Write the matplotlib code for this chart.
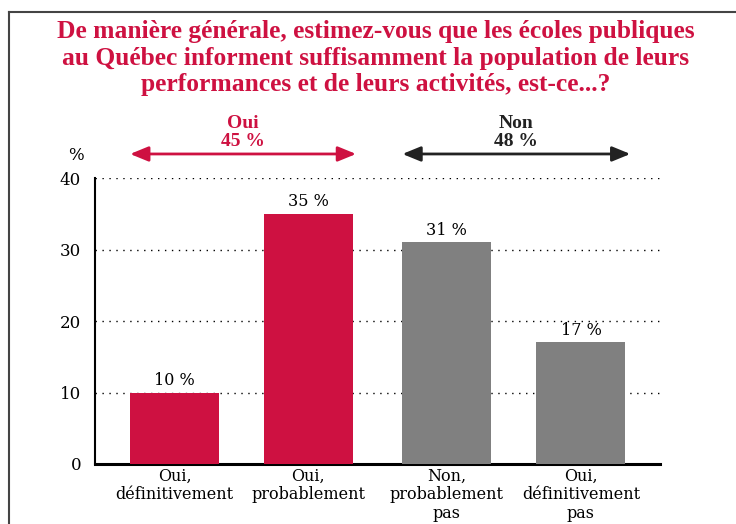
import matplotlib
matplotlib.use("Agg")
import matplotlib.pyplot as plt
from matplotlib.lines import Line2D

categories = ["Oui,\ndéfinitivement", "Oui,\nprobablement", "Non,\nprobablement\npas", "Oui,\ndéfinitivement\npas"]
values = [10, 35, 31, 17]
value_labels = ["10 %", "35 %", "31 %", "17 %"]
groups = ["Oui", "Non"]
group_totals = ["45 %", "48 %"]
yticks = [0, 10, 20, 30, 40]
title = ("De manière générale, estimez-vous que les écoles publiques\n"
         "au Québec informent suffisamment la population de leurs\n"
         "performances et de leurs activités, est-ce...?")

RED = "#CE1141"
GRAY = "#808080"
DARK = "#222222"
colors = [RED, RED, GRAY, GRAY]
positions = [0, 1, 2.04, 3.045]

BODY = ["DejaVu Serif"]
plt.rcParams["font.family"] = ["Liberation Serif", "DejaVu Serif"]

fig = plt.figure(figsize=(7.36, 5.24), dpi=100)
ax = fig.add_axes([95/736, 1-464/524, (660-95)/736, (464-178)/524])

ax.bar(positions, values, width=0.667, color=colors, zorder=3)
ax.set_xlim(-0.596, 3.637)
ax.set_ylim(0, 40)
ax.set_yticks(yticks)
ax.set_yticklabels([str(t) for t in yticks], fontsize=12, family=BODY)
ax.tick_params(axis="y", length=0, pad=10)
ax.tick_params(axis="x", length=0, pad=3)
ax.set_xticks(positions)
ax.set_xticklabels(categories, fontsize=11.5, linespacing=1.1, va="top", family=BODY)
for t in yticks[1:]:
    ax.axhline(t, color="black", linestyle=(0, (1, 4)), linewidth=1.0, zorder=1)
for s in ["top", "right"]:
    ax.spines[s].set_visible(False)
ax.spines["left"].set_linewidth(1.5)
ax.spines["bottom"].set_linewidth(2.2)

for p, v, lab in zip(positions, values, value_labels):
    ax.text(p, v + 0.5, lab, ha="center", va="bottom", fontsize=11.5, family=BODY)

# % label
fig.text(76/736, 1-155/524, "%", ha="center", va="center", fontsize=12, family=BODY)

# group arrows
gspans = [(positions[0] - 0.333, positions[1] + 0.36), (positions[2] - 0.333, positions[3] + 0.37)]
gcolors = [RED, DARK]
for (x0, x1), g, tot, c in zip(gspans, groups, group_totals, gcolors):
    ax.annotate("", xy=(x0, 1.084), xytext=(x1, 1.084), xycoords=("data", "axes fraction"),
                textcoords=("data", "axes fraction"),
                arrowprops=dict(arrowstyle="<|-|>,head_length=1.1,head_width=0.45", color=c, lw=2,
                                shrinkA=0, shrinkB=0), annotation_clip=False)
    xm = (x0 + x1) / 2
    ax.text(xm, 1.192, g, transform=ax.get_xaxis_transform(), ha="center", va="center",
            fontsize=14, fontweight="bold", color=c)
    ax.text(xm, 1.126, tot, transform=ax.get_xaxis_transform(), ha="center", va="center",
            fontsize=14, fontweight="bold", color=c)

fig.text(376/736, 1-58/524, title, ha="center", va="center", fontsize=18.4, fontweight="bold",
         color=RED, linespacing=1.22)

# frame
fig.add_artist(Line2D([9/736, 1], [1-12/524, 1-12/524], color="#444444", lw=1.5))
fig.add_artist(Line2D([9/736, 9/736], [0, 1-12/524], color="#444444", lw=1.5))

fig.savefig("out.png", dpi=100)
